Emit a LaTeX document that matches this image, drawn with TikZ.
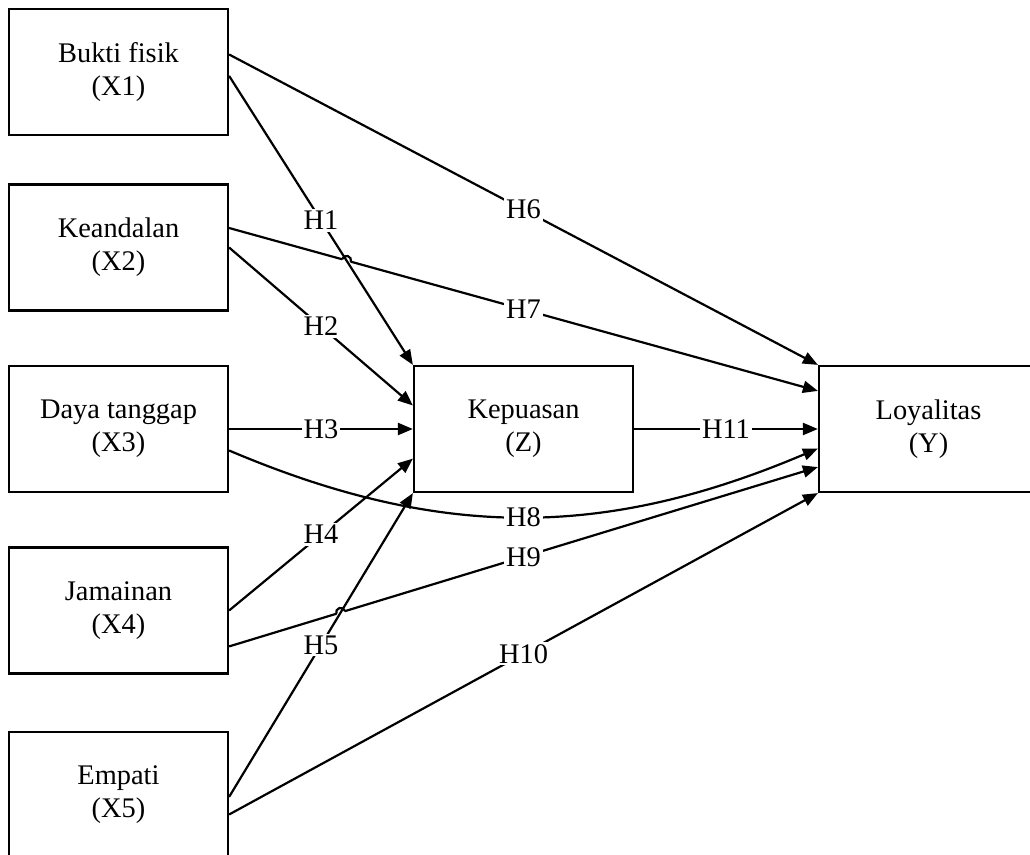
\documentclass[tikz,border=0pt]{standalone}
\usepackage{fontspec}
\setmainfont{Liberation Serif}
\usetikzlibrary{arrows.meta,intersections}

\begin{document}
\begin{tikzpicture}[x=0.5pt,y=-0.5pt,line width=1.1pt]

      \useasboundingbox (0,0) rectangle (1030,855);
      \clip (0,0) rectangle (1030,855);

      \begin{scope}[every node/.style={rectangle,draw,align=center,minimum width=109.5pt,minimum height=63pt,font=\fontsize{14.2}{16.5}\selectfont}]
        \node (x1) at (118.5,72)    {Bukti fisik\\(X1)};
        \node (x2) at (118.5,247.5) {Keandalan\\(X2)};
        \node (x3) at (118.5,429)   {Daya tanggap\\(X3)};
        \node (x4) at (118.5,610.5) {Jamainan\\(X4)};
        \node (x5) at (118.5,795)   {Empati\\(X5)};
        \node (z)  at (523.5,429)   {Kepuasan\\(Z)};
        \node (y)  at (928.5,429)   {Loyalitas\\(Y)};
      \end{scope}

      % crossings that get a hop
      \path[name path=p1] (x1.-2) -- (z.north west);
      \path[name path=p7] (x2.10.5) -- (y.161.3);
      \path[name path=p5] (x5.-1) -- (z.south west);
      \path[name path=p9] (x4.-18.5) -- (y.199);
      \path[name intersections={of=p1 and p7,by=c17}];
      \path[name intersections={of=p5 and p9,by=c59}];

      \begin{scope}[every node/.style={fill=white,inner sep=1pt,font=\fontsize{14.2}{16.5}\selectfont}]

        \begin{scope}[every edge/.style={draw,-{Triangle[length=7.5pt,width=6pt]}}]
          \path (x2.east)   edge node {H2} (z.168.6);
          \path (x3.east)   edge node {H3} (z.west);
          \path (x4.east)   edge node {H4} (z.195);
          \path (x1.9)      edge node {H6} (y.north west);
          \path (x2.10.5)   edge node {H7} (y.161.3);
          \path (x3.-11)    edge[out=-23,in=203] node {H8} (y.190);
          \path (x4.-18.5)  edge node {H9} (y.199);
          \path (x5.-10)    edge node {H10} (y.south west);
          \path (z.east)    edge node {H11} (y.west);

          \fill[white] (c17) circle (2.3pt);
          \draw (c17) ++(164.4:2.3pt) arc[start angle=164.4,delta angle=-180,radius=2.3pt];
          \fill[white] (c59) circle (2.3pt);
          \draw (c59) ++(197:2.3pt) arc[start angle=197,delta angle=-180,radius=2.3pt];

          \path (x1.-2)     edge node {H1} (z.north west);
          \path (x5.-1)     edge node {H5} (z.south west);
        \end{scope}
      \end{scope}

    \end{tikzpicture}
\end{document}
